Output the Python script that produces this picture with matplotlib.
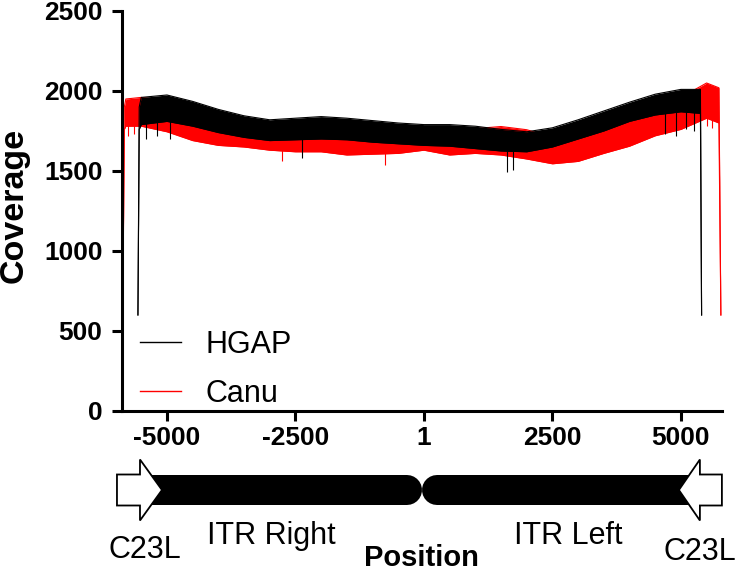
import matplotlib
matplotlib.use("Agg")
import matplotlib.pyplot as plt
import numpy as np
from matplotlib.patches import Rectangle, Polygon

plt.rcParams['font.family'] = ['Liberation Sans', 'DejaVu Sans']

# ---------------- data ----------------
# HGAP coverage envelope (upper / lower edge of the noisy trace)
hgap_pos = [-5565, -5540, -5500, -5000, -4500, -4000, -3500, -3000, -2500, -2000,
            -1500, -1000, -500, 0, 500, 1000, 1500, 2000, 2500, 3000, 3500, 4000,
            4500, 5000, 5380, 5403]
hgap_top = [600, 1900, 1960, 1975, 1935, 1885, 1845, 1820, 1830, 1840,
            1830, 1815, 1800, 1790, 1790, 1780, 1760, 1745, 1770, 1820, 1875, 1930,
            1980, 2010, 2010, 600]
hgap_bot = [600, 1760, 1790, 1810, 1780, 1740, 1710, 1690, 1695, 1700,
            1695, 1680, 1670, 1660, 1655, 1640, 1625, 1620, 1650, 1700, 1750, 1810,
            1850, 1870, 1860, 600]
hgap_spike_pos = [-5400, -5200, -4950, -2380, 1608, 1738, 4700, 4900, 5100, 5250]
hgap_spike_val = [1700, 1720, 1700, 1580, 1495, 1505, 1730, 1720, 1760, 1750]

# Canu coverage envelope
canu_pos = [-5860, -5830, -5800, -5500, -5000, -4500, -4000, -3500, -3000, -2500,
            -2000, -1500, -1000, -500, 0, 500, 1000, 1500, 2000, 2500, 3000, 3500,
            4000, 4500, 5000, 5500, 5740, 5778]
canu_top = [600, 1900, 1950, 1960, 1940, 1880, 1830, 1790, 1770, 1770,
            1770, 1760, 1750, 1750, 1760, 1760, 1765, 1778, 1758, 1710, 1740, 1790,
            1840, 1900, 1960, 2050, 2020, 600]
canu_bot = [600, 1760, 1780, 1780, 1745, 1690, 1660, 1650, 1630, 1620,
            1620, 1600, 1605, 1610, 1630, 1600, 1610, 1600, 1575, 1545, 1560, 1610,
            1655, 1720, 1760, 1830, 1800, 600]
canu_spike_pos = [-5750, -5650, -2770, -760, 5500, 5600]
canu_spike_val = [1720, 1730, 1560, 1540, 1780, 1770]

xticks = [-5000, -2500, 1, 2500, 5000]
xtick_labels = ['-5000', '-2500', '1', '2500', '5000']
yticks = [0, 500, 1000, 1500, 2000, 2500]
series_names = ['HGAP', 'Canu']

# genome features below the axis (positions)
c23l_left = (-5973, -5525, -5097)    # body start, head base, tip
c23l_right = (5798, 5370, 4961)
itr_right = (-5525, -330)
itr_left = (253, 5370)

RED = '#ff0000'

# ---------------- figure ----------------
W, H = 745, 571
fig = plt.figure(figsize=(W / 100, H / 100), dpi=100)
ax = fig.add_axes([122 / W, 1 - 411 / H, 600 / W, 400 / H])


def draw_series(pos, top, bot, spos, sval, color, z):
    ax.fill_between(pos, bot, top, color=color, lw=0, zorder=z)
    ax.plot(pos, top, color=color, lw=0.8, zorder=z + 0.1)
    ax.plot(pos, bot, color=color, lw=0.8, zorder=z + 0.1)
    start = np.interp(spos, pos, bot) + 30
    ax.vlines(spos, sval, start, color=color, lw=0.8, zorder=z + 0.1)


draw_series(canu_pos, canu_top, canu_bot, canu_spike_pos, canu_spike_val, RED, 2)
draw_series(hgap_pos, hgap_top, hgap_bot, hgap_spike_pos, hgap_spike_val, 'black', 3)

# legend proxies
h1, = ax.plot([], [], color='black', lw=1)
h2, = ax.plot([], [], color=RED, lw=1)
ax.legend([h1, h2], series_names, loc='lower left', bbox_to_anchor=(18 / 600, 0.005),
          frameon=False, fontsize=22, handlelength=1.35, handletextpad=0.8,
          labelspacing=0.62, borderpad=0, borderaxespad=0)

ax.set_xlim(-5875, 5800)
ax.set_ylim(0, 2500)
ax.set_xticks(xticks)
ax.set_xticklabels(xtick_labels)
ax.set_yticks(yticks)
for s in ['top', 'right']:
    ax.spines[s].set_visible(False)
for s in ['left', 'bottom']:
    ax.spines[s].set_linewidth(2.2)
ax.tick_params(width=2.2, length=7, labelsize=19, direction='out')
ax.tick_params(axis='y', pad=7)
ax.tick_params(axis='x', pad=4)
for lab in ax.get_xticklabels() + ax.get_yticklabels():
    lab.set_fontweight('bold')

fig.text(14 / W, 1 - 205 / H, 'Coverage', rotation=90, fontsize=24.5, fontweight='bold',
         ha='center', va='center')

# ---------------- feature diagram ----------------
ax2 = fig.add_axes([122 / W, 1 - 525 / H, 600 / W, 70 / H])
ax2.set_xlim(ax.get_xlim())
ax2.set_ylim(-1, 1)
ax2.axis('off')
bh = 15 / 35     # half height of bar
ah = 15.5 / 35   # arrow body half height
hh = 30.5 / 35   # arrow head half height

for (a, b), rnd_end in [(itr_right, 'right'), (itr_left, 'left')]:
    if rnd_end == 'right':
        ax2.add_patch(Rectangle((a, -bh), b - 300 - a, 2 * bh, color='black', clip_on=False, lw=0))
        ax2.plot([b - 400, b], [0, 0], color='black', lw=21.6, solid_capstyle='round', clip_on=False)
    else:
        ax2.add_patch(Rectangle((a + 300, -bh), b - a - 300, 2 * bh, color='black', clip_on=False, lw=0))
        ax2.plot([a, a + 400], [0, 0], color='black', lw=21.6, solid_capstyle='round', clip_on=False)

for body, base, tip in [c23l_left, c23l_right]:
    pts = [(body, -ah), (body, ah), (base, ah), (base, hh), (tip, 0), (base, -hh), (base, -ah)]
    ax2.add_patch(Polygon(pts, closed=True, facecolor='white', edgecolor='black', lw=1.3,
                          clip_on=False, zorder=5, joinstyle='miter'))

fig.text(144.5 / W, 1 - 558 / H, 'C23L', fontsize=22, ha='center', va='baseline')
fig.text(700 / W, 1 - 560 / H, 'C23L', fontsize=22, ha='center', va='baseline')
fig.text(271 / W, 1 - 544 / H, 'ITR Right', fontsize=22, ha='center', va='baseline')
fig.text(568 / W, 1 - 544 / H, 'ITR Left', fontsize=22, ha='center', va='baseline')
fig.text(421 / W, 1 - 566.5 / H, 'Position', fontsize=21, fontweight='bold', ha='center', va='baseline')

fig.savefig('out.png', dpi=100)
